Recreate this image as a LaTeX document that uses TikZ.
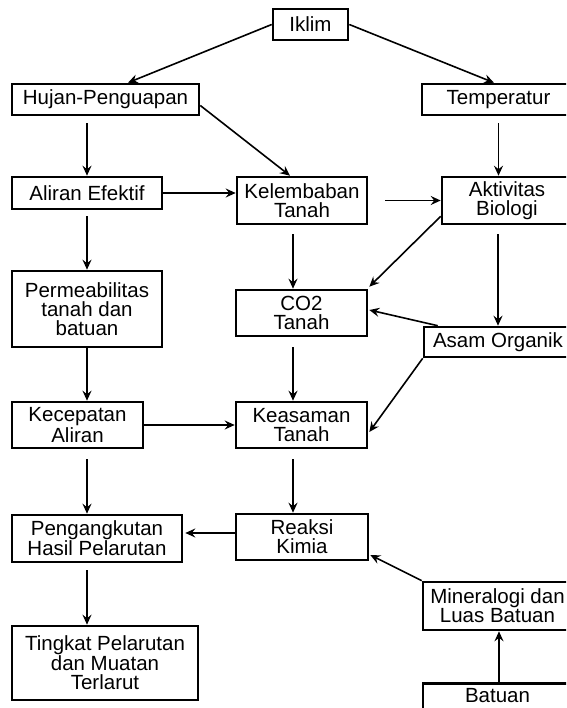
\documentclass[tikz,border=0pt]{standalone}
\usepackage{fontspec}
\setmainfont{Liberation Sans}
\usetikzlibrary{arrows.meta,calc}
\begin{document}
\begin{tikzpicture}[x=1pt,y=-1pt,
  box/.style={draw=black,line width=2.6pt,fill=white,inner sep=0pt,align=center,
    font=\fontsize{20.5pt}{19pt}\selectfont,text=black},
  arr/.style={draw=black,line width=1.6pt,-{Stealth[length=10pt,width=9pt,inset=3.5pt]}}]
\useasboundingbox (0,0) rectangle (566,708);
\clip (0,0) rectangle (566,708);
\node[box,minimum width=75pt,minimum height=31pt] (iklim) at (310.5,24.5) {Iklim};
\node[box,minimum width=187pt,minimum height=31pt] (hujan) at (105.5,99.5) {Hujan-Penguapan};
\node[box,minimum width=153pt,minimum height=31pt] (temp) at (498.5,99.5) {Temperatur};
\node[box,minimum width=150pt,minimum height=32pt] (aliran) at (87,193) {Aliran Efektif};
\node[box,minimum width=130pt,minimum height=47pt] (kelem) at (302,200.5) {Kelembaban\\Tanah};
\node[box,minimum width=130pt,minimum height=47pt] (aktiv) at (507,200.5) {Aktivitas\\Biologi};
\node[box,minimum width=150pt,minimum height=76pt] (perm) at (87,309) {Permeabilitas\\tanah dan\\batuan};
\node[box,minimum width=131pt,minimum height=46pt] (co2) at (301.5,313) {CO2\\Tanah};
\node[box,minimum width=148pt,minimum height=30pt] (asam) at (498,342) {Asam Organik};
\node[box,minimum width=131pt,minimum height=46pt] (kecep) at (77.5,425) {Kecepatan\\Aliran};
\node[box,minimum width=131pt,minimum height=46pt] (keas) at (301.5,425) {Keasaman\\Tanah};
\node[box,minimum width=170pt,minimum height=47pt] (peng) at (97,538.5) {Pengangkutan\\Hasil Pelarutan};
\node[box,minimum width=132pt,minimum height=46pt] (reaksi) at (302,537) {Reaksi\\Kimia};
\node[box,minimum width=186pt,minimum height=74pt] (ting) at (105,663) {Tingkat Pelarutan\\dan Muatan\\Terlarut};
\node[box,minimum width=149pt,minimum height=48pt] (miner) at (497.5,606) {Mineralogi dan\\Luas Batuan};
\node[box,minimum width=149pt,minimum height=48pt,anchor=north] (batuan) at (497.5,682) {Batuan\\\strut};
% connectors
\draw[arr] (iklim.west) -- ([xshift=22.5pt]hujan.north);
\draw[arr] (iklim.east) -- ([xshift=-4.5pt]temp.north);
\draw[arr,shorten <=7pt] (aliran.north |- hujan.south) -- (aliran.north);
\draw[arr] ([yshift=-6pt]hujan.east) -- ([xshift=-12pt]kelem.north);
\draw[arr] (aliran.east) -- (aliran.east -| kelem.west);
\draw[arr,shorten <=17pt] (kelem.east) -- (aktiv.west);
\draw[arr,shorten <=7pt] (temp.south) -- (temp.south |- aktiv.north);
\draw[arr,shorten <=6pt] (aliran.south) -- (perm.north);
\draw[arr,shorten <=9pt] ([xshift=-9pt]kelem.south) -- ([xshift=-8.5pt]co2.north);
\draw[arr,shorten <=10pt] ([xshift=-8.5pt]co2.south) -- ([xshift=-8.5pt]keas.north);
\draw[arr,shorten <=10pt] ([xshift=-8.5pt]keas.south) -- ([xshift=-9pt]reaksi.north);
\draw[arr] ([yshift=9pt]aktiv.south west) -- ([xshift=1pt,yshift=2pt]co2.north east);
\draw[arr,shorten <=9pt] (asam.north |- aktiv.south) -- (asam.north);
\draw[arr] ([xshift=15pt]asam.north west) -- ([xshift=1pt,yshift=3pt]co2.east);
\draw[arr] (asam.south west) -- ([xshift=1pt,yshift=-7pt]keas.east);
\draw[arr] (perm.south) -- (perm.south |- kecep.north);
\draw[arr] (kecep.east) -- (keas.west);
\draw[arr,shorten <=10pt] (perm.south |- kecep.south) -- (perm.south |- peng.north);
\draw[arr,shorten >=2pt] ([yshift=4pt]reaksi.west) -- ([yshift=4pt]reaksi.west -| peng.east);
\draw[arr,shorten <=7pt] (perm.south |- peng.south) -- (perm.south |- ting.north);
\draw[arr] (miner.north west) -- ([xshift=1pt,yshift=-18pt]reaksi.east);
\draw[arr] ([xshift=1.5pt]batuan.north) -- ([xshift=1.5pt]miner.south);
\end{tikzpicture}
\end{document}
